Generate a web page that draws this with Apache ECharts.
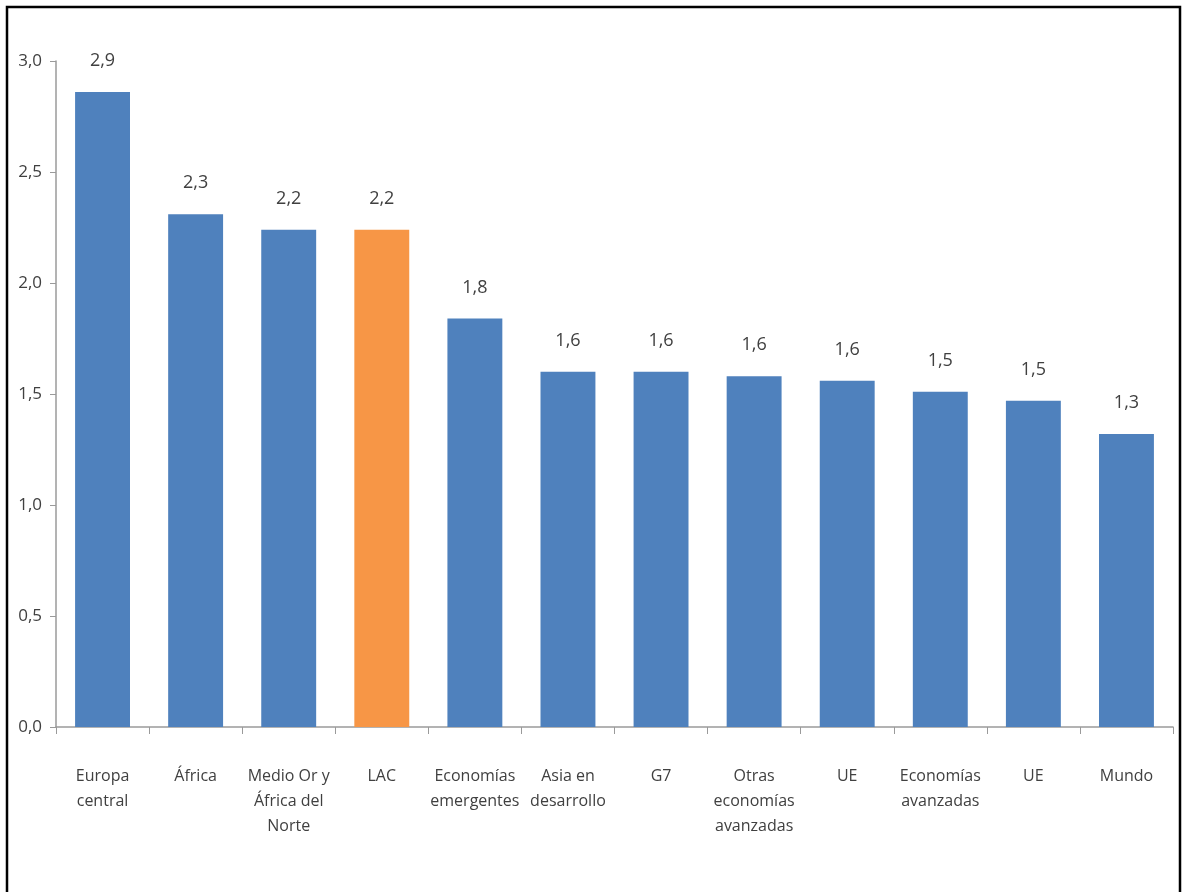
<!DOCTYPE html>
<html>
<head>
<meta charset="utf-8">
<script src="https://cdn.jsdelivr.net/npm/echarts@6/dist/echarts.min.js"></script>
<style>
html,body{margin:0;padding:0;background:#fff;}
#c{width:1183px;height:892px;}
</style>
</head>
<body>
<div id="c"></div>
<script>
const categories = ["Europa\ncentral", "África", "Medio Or y\nÁfrica del\nNorte", "LAC", "Economías\nemergentes", "Asia en\ndesarrollo", "G7", "Otras\neconomías\navanzadas", "UE", "Economías\navanzadas", "UE", "Mundo"];
const values = [2.86, 2.31, 2.24, 2.24, 1.84, 1.60, 1.60, 1.58, 1.56, 1.51, 1.47, 1.32];
const highlightCategory = "LAC";
const yTicks = { min: 0, max: 3, interval: 0.5 };

const FONT = '"Open Sans", sans-serif';
const fmt = v => v.toFixed(1).replace('.', ',');

const chart = echarts.init(document.getElementById('c'), null, { renderer: 'canvas' });
chart.setOption({
  animation: false,
  backgroundColor: '#ffffff',
  graphic: [{
    type: 'rect',
    shape: { x: 7, y: 7, width: 1173, height: 900 },
    style: { fill: 'none', stroke: '#000', lineWidth: 2.5 },
    silent: true
  }],
  grid: { left: 56, right: 10, top: 61, bottom: 165 },
  xAxis: {
    type: 'category',
    data: categories,
    axisLine: { lineStyle: { color: '#9a9a9a', width: 1.5 } },
    axisTick: { show: true, interval: 0, alignWithLabel: false, length: 7, lineStyle: { color: '#9a9a9a' } },
    axisLabel: {
      interval: 0, margin: 37, color: '#404040', fontSize: 16, lineHeight: 25,
      fontFamily: FONT
    }
  },
  yAxis: {
    type: 'value',
    min: yTicks.min, max: yTicks.max, interval: yTicks.interval,
    axisLine: { show: true, lineStyle: { color: '#9a9a9a', width: 1.5 } },
    axisTick: { show: true, length: 6, lineStyle: { color: '#9a9a9a' } },
    splitLine: { show: false },
    axisLabel: { color: '#404040', fontSize: 17, margin: 14, fontFamily: FONT, formatter: v => fmt(v) }
  },
  series: [{
    type: 'bar',
    data: values,
    barCategoryGap: '41%',
    itemStyle: {
      color: p => categories[p.dataIndex] === highlightCategory ? '#F79646' : '#4F81BD'
    },
    label: {
      show: true, position: 'top', distance: 22,
      color: '#404040', fontSize: 18, fontFamily: FONT,
      formatter: p => fmt(p.value)
    }
  }]
});
</script>
</body>
</html>
